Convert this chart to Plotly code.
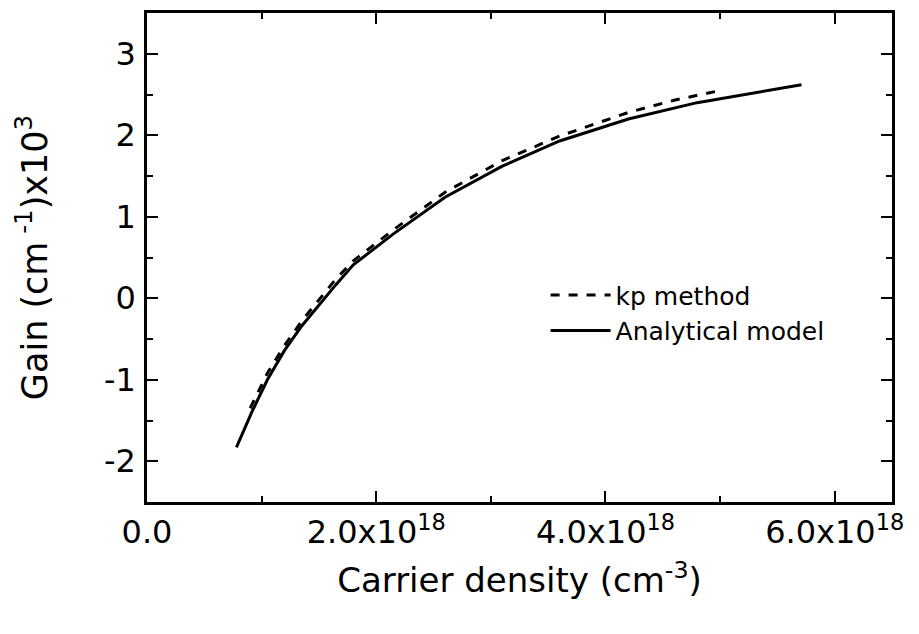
import plotly.graph_objects as go

# Carrier density in units of 1e18 cm^-3, gain in units of 1e3 cm^-1
kp_x = [0.90, 1.05, 1.20, 1.35, 1.50, 1.65, 1.80, 2.15, 2.60, 3.10, 3.60, 4.20, 4.60, 4.97]
kp_y = [-1.35, -0.92, -0.58, -0.28, -0.02, 0.24, 0.46, 0.84, 1.30, 1.69, 1.99, 2.28, 2.43, 2.54]

an_x = [0.78, 0.92, 1.05, 1.20, 1.35, 1.50, 1.65, 1.80, 2.15, 2.60, 3.10, 3.60, 4.20, 4.80, 5.30, 5.71]
an_y = [-1.83, -1.38, -1.00, -0.64, -0.34, -0.08, 0.17, 0.41, 0.79, 1.24, 1.62, 1.93, 2.20, 2.40, 2.52, 2.62]

x_tickvals = [0, 2e18, 4e18, 6e18]
x_ticktext = ["0.0", "2.0x10<sup>18</sup>", "4.0x10<sup>18</sup>", "6.0x10<sup>18</sup>"]
y_tickvals = [-2, -1, 0, 1, 2, 3]
y_ticktext = ["-2", "-1", "0", "1", "2", "3"]

FONT = "DejaVu Sans, Arial, sans-serif"

fig = go.Figure()
fig.add_trace(go.Scatter(
    x=[v * 1e18 for v in kp_x], y=kp_y, mode="lines", name="kp method",
    line=dict(color="black", width=3, dash="dash")))
fig.add_trace(go.Scatter(
    x=[v * 1e18 for v in an_x], y=an_y, mode="lines", name="Analytical model",
    line=dict(color="black", width=3)))

axis_common = dict(
    showline=True, linecolor="black", linewidth=2.5, mirror="ticks",
    ticks="inside", ticklen=11, tickwidth=2, tickcolor="black",
    showgrid=False, zeroline=False,
    tickfont=dict(family=FONT, size=32, color="black"),
)

fig.update_xaxes(
    range=[0, 6.5e18], tickvals=x_tickvals, ticktext=x_ticktext,
    minor=dict(ticks="inside", ticklen=6, tickwidth=2, tickcolor="black", dtick=1e18, showgrid=False),
    title=dict(text="Carrier density (cm<sup>-3</sup>)", font=dict(family=FONT, size=34, color="black"), standoff=19),
    ticklabelstandoff=0,
    **axis_common)
fig.update_yaxes(
    range=[-2.5, 3.5], tickvals=y_tickvals, ticktext=y_ticktext,
    minor=dict(ticks="inside", ticklen=6, tickwidth=2, tickcolor="black", dtick=0.5, showgrid=False),
    title=dict(text="Gain (cm<sup> -1</sup>)x10<sup>3</sup>", font=dict(family=FONT, size=35, color="black"), standoff=46),
    ticklabelstandoff=2,
    **axis_common)

fig.update_layout(
    width=919, height=634,
    margin=dict(l=147, r=27, t=10, b=132),
    plot_bgcolor="white", paper_bgcolor="white",
    legend=dict(x=0.535, y=0.47, xanchor="left", yanchor="top",
                font=dict(family=FONT, size=25, color="black"),
                bgcolor="rgba(0,0,0,0)", itemwidth=60, tracegroupgap=0),
)

fig.write_html("out.html")
